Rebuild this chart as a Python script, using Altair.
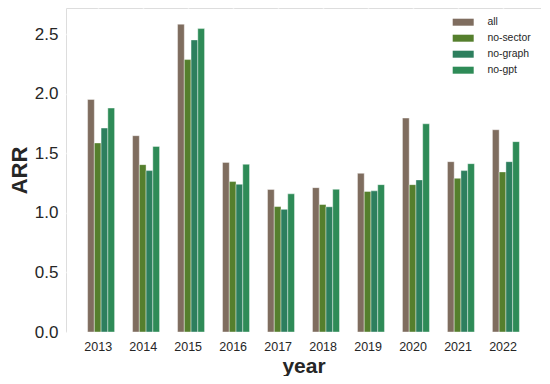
import altair as alt
import pandas as pd

years = [2013, 2014, 2015, 2016, 2017, 2018, 2019, 2020, 2021, 2022]
series = ["all", "no-sector", "no-graph", "no-gpt"]
colors = ["#7f6d5f", "#557f2d", "#2d7f5e", "#2e8b57"]

v_all = [1.952, 1.648, 2.584, 1.424, 1.196, 1.212, 1.332, 1.796, 1.430, 1.698]
v_sector = [1.587, 1.405, 2.287, 1.263, 1.053, 1.070, 1.180, 1.237, 1.290, 1.344]
v_graph = [1.712, 1.355, 2.452, 1.240, 1.030, 1.051, 1.185, 1.277, 1.355, 1.430]
v_gpt = [1.880, 1.558, 2.547, 1.408, 1.160, 1.198, 1.237, 1.748, 1.413, 1.598]

y_ticks = [0.0, 0.5, 1.0, 1.5, 2.0, 2.5]
bar_w = 0.15

rows = []
for i, (name, vals) in enumerate(zip(series, [v_all, v_sector, v_graph, v_gpt])):
    for yr, v in zip(years, vals):
        rows.append({"year": yr, "series": name, "idx": i, "ARR": v})
df = pd.DataFrame(rows)

FONT = "Liberation Sans"
TXT = "#262626"
GRID = "#ffffff"

legend = alt.Legend(
    title=None,
    orient="none",
    legendX=392,
    legendY=9,
    direction="vertical",
    symbolType="M-3,-1L3,-1L3,1L-3,1Z",
    symbolSize=49,
    symbolStrokeWidth=0,
    symbolOpacity=1,
    labelFontSize=10.4,
    labelFont=FONT,
    labelColor=TXT,
    labelOffset=19,
    rowPadding=5,
    padding=0,
)

chart = (
    alt.Chart(df)
    .transform_calculate(
        x0=f"datum.year + (datum.idx - 1) * {bar_w} - {bar_w / 2}",
        x1=f"datum.year + (datum.idx - 1) * {bar_w} + {bar_w / 2}",
    )
    .mark_bar(opacity=1, stroke="white", strokeWidth=0.5, strokeOpacity=0.8)
    .encode(
        x=alt.X(
            "x0:Q",
            scale=alt.Scale(domain=[2012.295, 2022.855], nice=False, zero=False),
            axis=alt.Axis(
                title="year",
                values=years,
                format="d",
                ticks=False,
                domain=False,
                labelPadding=8,
                labelFontSize=12.5,
                labelFont=FONT,
                labelColor=TXT,
                titleFont=FONT,
                titleFontSize=21,
                titleFontWeight="bold",
                titleColor=TXT,
                titleBaseline="alphabetic",
                titleY=40.5,
                grid=True,
                gridColor=GRID,
                gridOpacity=1,
                gridWidth=1.5,
                labelFlush=False,
                zindex=0,
            ),
        ),
        x2="x1:Q",
        y=alt.Y(
            "ARR:Q",
            scale=alt.Scale(domain=[0, 2.72], nice=False),
            axis=alt.Axis(
                title="ARR",
                values=y_ticks,
                format=".1f",
                ticks=False,
                domain=False,
                labelPadding=8,
                labelFontSize=17,
                labelFont=FONT,
                labelColor=TXT,
                titleFont=FONT,
                titleFontSize=22,
                titleFontWeight="bold",
                titleColor=TXT,
                titleBaseline="middle",
                titleAlign="center",
                titleX=-47,
                titleY=162,
                grid=True,
                gridColor=GRID,
                gridOpacity=1,
                gridWidth=1.5,
                labelFlush=False,
                zindex=0,
            ),
        ),
        y2=alt.datum(0),
        color=alt.Color(
            "series:N",
            scale=alt.Scale(domain=series, range=colors),
            sort=series,
            legend=legend,
        ),
    )
    .properties(
        width=475,
        height=324,
        autosize=alt.AutoSizeParams(type="none"),
        padding={"left": 58, "top": 0, "right": 0, "bottom": 44},
    )
    .configure_view(fill="#EAEAF2", fillOpacity=1, stroke=None)
    .configure(background="white")
)

chart.save("out.html", embed_options={"renderer": "svg", "actions": False})
